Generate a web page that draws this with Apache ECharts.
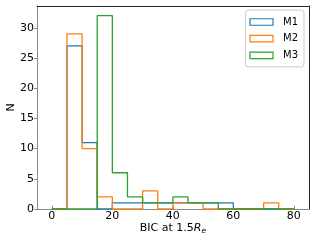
<!DOCTYPE html>
<html>
<head>
<meta charset="utf-8">
<script src="https://cdn.jsdelivr.net/npm/echarts@6/dist/echarts.min.js"></script>
<style>html,body{margin:0;padding:0;background:#fff;}#c{width:315px;height:243px;}</style>
</head>
<body>
<div id="c"></div>
<script>
const binEdges = [0,5,10,15,20,25,30,35,40,45,50,55,60,65,70,75,80];
const countsM1 = [0,27,11,0,1,1,1,1,1,1,1,1,0,0,0,0];
const countsM2 = [0,29,10,2,0,0,3,0,1,1,0,0,0,0,1,0];
const countsM3 = [0,0,0,32,6,2,1,1,2,1,1,0,0,0,0,0];
const seriesNames = ['M1','M2','M3'];
const seriesColors = ['#1f77b4','#ff7f0e','#2ca02c'];
const xTicks = [0,20,40,60,80];
const yTicks = [0,5,10,15,20,25,30];

function stepPoints(counts){
  const pts = [[binEdges[0],0]];
  for(let i=0;i<counts.length;i++) pts.push([binEdges[i],counts[i]]);
  pts.push([binEdges[binEdges.length-1],0]);
  return pts;
}
const allCounts = [countsM1,countsM2,countsM3];
const font = 'DejaVu Sans';
const spineGray = '#8a8a8a';
const spineDark = '#262626';
const xMin = -4.9, xMax = 85, yMin = 0, yMax = 33.6;
const chart = echarts.init(document.getElementById('c'), null, {renderer:'canvas'});
chart.setOption({
  animation:false,
  grid:{left:37,right:6,top:6,bottom:34,show:false,containLabel:false,outerBoundsMode:'none'},
  xAxis:[{type:'value',min:xMin,max:xMax,position:'bottom',
    axisLine:{show:true,onZero:false,lineStyle:{color:spineGray,width:1}},splitLine:{show:false},
    axisTick:{show:true,inside:true,length:3.3,lineStyle:{color:spineGray},customValues:xTicks},
    axisLabel:{color:'#000',fontFamily:font,fontSize:11,margin:2,customValues:xTicks},
    name:'{n|BIC at 1.5}{i|R}{s|e}',nameLocation:'middle',nameGap:13,nameMoveOverlap:false,
    nameTextStyle:{color:'#000',fontFamily:font,fontSize:11,
      rich:{n:{fontFamily:font,fontSize:11,color:'#000'},
            i:{fontFamily:font,fontSize:11,fontStyle:'italic',color:'#000'},
            s:{fontFamily:font,fontSize:7.7,fontStyle:'italic',color:'#000',padding:[5,0,0,0]}}}
  },{type:'value',min:xMin,max:xMax,position:'top',
    axisLine:{show:true,onZero:false,lineStyle:{color:spineDark,width:1}},
    axisTick:{show:false},axisLabel:{show:false},splitLine:{show:false}}],
  yAxis:[{type:'value',min:yMin,max:yMax,position:'left',
    axisLine:{show:true,onZero:false,lineStyle:{color:spineGray,width:1}},splitLine:{show:false},
    axisTick:{show:true,inside:false,length:3,lineStyle:{color:spineGray},customValues:yTicks},
    axisLabel:{color:'#000',fontFamily:font,fontSize:11,margin:3,customValues:yTicks},
    name:'N',nameLocation:'middle',nameGap:20,nameRotate:90,nameMoveOverlap:false,
    nameTextStyle:{color:'#000',fontFamily:font,fontSize:11}
  },{type:'value',min:yMin,max:yMax,position:'right',
    axisLine:{show:true,onZero:false,lineStyle:{color:spineDark,width:1}},
    axisTick:{show:false},axisLabel:{show:false},splitLine:{show:false}}],
  legend:{orient:'vertical',right:11,top:10,
    data:seriesNames.map((n,i)=>({name:n,icon:'rect',itemStyle:{color:'transparent',borderColor:seriesColors[i],borderWidth:1.2}})),
    itemWidth:23,itemHeight:6.5,itemGap:4.7,
    padding:[6,6,5.5,4],
    borderColor:'#ccc',borderWidth:1,borderRadius:3,backgroundColor:'#fff',
    textStyle:{fontFamily:font,fontSize:10,lineHeight:12,color:'#000',padding:[0,0,0,5]}
  },
  series: seriesNames.map((n,i)=>({
    name:n,type:'line',step:'end',symbol:'none',clip:true,
    data:stepPoints(allCounts[i]),
    lineStyle:{color:seriesColors[i],width:1.3},
    itemStyle:{color:seriesColors[i]}
  }))
});
</script>
</body>
</html>
